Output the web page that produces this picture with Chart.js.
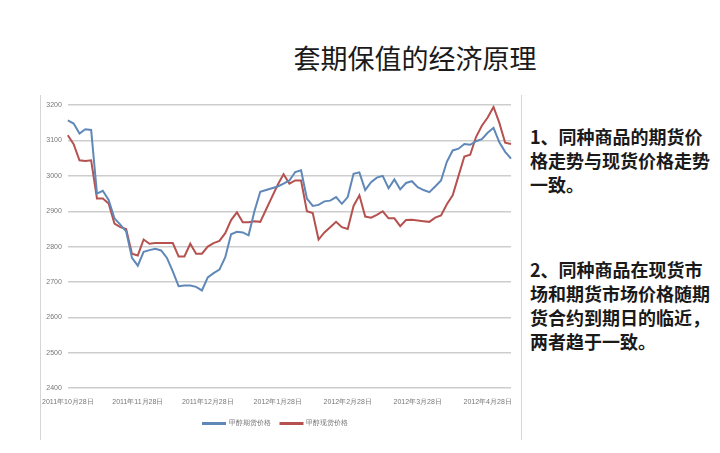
<!DOCTYPE html>
<html>
<head>
<meta charset="utf-8">
<script src="https://cdn.jsdelivr.net/npm/chart.js@4"></script>
<style>
  body { margin: 0; width: 720px; height: 453px; background: #fff; position: relative; overflow: hidden;
         font-family: "Noto Sans CJK SC", sans-serif; }
  #title { position: absolute; left: 280px; top: 38px; width: 270px; text-align: center;
           font-size: 27px; color: #1a1a1a; }
  #frame { position: absolute; left: 40px; top: 95px; width: 480px; height: 345px;
           border-left: 1px solid #d6d6d6; border-right: 1px solid #d6d6d6; }
  #wrap { position: absolute; left: 40px; top: 95px; width: 480px; height: 345px; }
  .note { position: absolute; left: 530px; width: 188px; font-size: 18px; line-height: 24px;
          font-weight: bold; color: #1a1a1a; }
</style>
</head>
<body>
<div id="title">套期保值的经济原理</div>
<div id="frame"></div>
<div id="wrap"><canvas id="canvas" width="480" height="345"></canvas></div>
<div class="note" style="top:124px">1、同种商品的期货价格走势与现货价格走势一致。</div>
<div class="note" style="top:257px">2、同种商品在现货市场和期货市场价格随期货合约到期日的临近，两者趋于一致。</div>
<script>
// tick labels, one every 12 points
const monthLabels = ['2011年10月28日', '2011年11月28日', '2011年12月28日', '2012年1月28日',
                     '2012年2月28日', '2012年3月28日', '2012年4月28日'];
const pointsPerMonth = 12;

// 甲醇期货价格
const futures = [3157, 3148, 3120, 3132, 3130, 2950, 2958, 2932, 2880, 2862,
                 2843, 2768, 2746, 2785, 2790, 2794, 2789, 2768, 2730, 2688,
                 2690, 2690, 2686, 2676, 2713, 2725, 2735, 2770, 2835, 2842,
                 2840, 2832, 2900, 2955, 2960, 2965, 2970, 2978, 2987, 3011,
                 3016, 2936, 2915, 2918, 2928, 2930, 2940, 2921, 2940, 3006,
                 3010, 2960, 2982, 2995, 3000, 2965, 2990, 2962, 2980, 2985,
                 2968, 2960, 2954, 2970, 2987, 3040, 3072, 3077, 3090, 3088,
                 3098, 3104, 3122, 3136, 3095, 3068, 3049];
// 甲醇现货价格
const spot = [3115, 3090, 3044, 3042, 3044, 2936, 2936, 2922, 2865, 2855,
              2850, 2780, 2775, 2820, 2808, 2810, 2810, 2810, 2810, 2772,
              2772, 2808, 2780, 2780, 2800, 2810, 2816, 2838, 2875, 2897,
              2869, 2869, 2872, 2870, 2905, 2940, 2975, 3005, 2978, 2987,
              2987, 2900, 2895, 2820, 2840, 2855, 2870, 2855, 2850, 2915,
              2945, 2885, 2882, 2890, 2900, 2880, 2880, 2858, 2875, 2876,
              2874, 2872, 2870, 2882, 2888, 2920, 2945, 3000, 3055, 3060,
              3110, 3142, 3165, 3195, 3150, 3094, 3090];

const labels = futures.map((v, i) =>
  i % pointsPerMonth === 0 ? (monthLabels[i / pointsPerMonth] || '') : '');

const ctx = document.getElementById('canvas').getContext('2d');
const myChart = new Chart(ctx, {
  type: 'line',
  data: {
    labels: labels,
    datasets: [{
      label: '甲醇期货价格',
      data: futures,
      borderColor: '#5f88b8',
      backgroundColor: '#5f88b8',
      borderWidth: 2,
      pointRadius: 0,
      tension: 0
    }, {
      label: '甲醇现货价格',
      data: spot,
      borderColor: '#b5514f',
      backgroundColor: '#b5514f',
      borderWidth: 2,
      pointRadius: 0,
      tension: 0
    }]
  },
  options: {
    responsive: false,
    animation: false,
    layout: { padding: { left: 0, right: 9, top: 10, bottom: 3 } },
    plugins: {
      tooltip: { enabled: false },
      legend: {
        position: 'bottom',
        labels: {
          boxWidth: 22, boxHeight: 1, font: { size: 7 }, color: '#777', padding: 10
        }
      }
    },
    scales: {
      x: {
        grid: { display: false },
        border: { display: false },
        ticks: {
          autoSkip: false, maxRotation: 0, minRotation: 0,
          font: { size: 7 }, color: '#777', padding: 2
        },
        afterFit: s => { s.height = 22; }
      },
      y: {
        min: 2400, max: 3200,
        grid: { color: '#cdcdcd', lineWidth: 1.5, drawTicks: false },
        border: { display: false },
        ticks: { stepSize: 100, font: { size: 7 }, color: '#777', padding: 6,
                 callback: v => String(v) },
        afterFit: s => { s.width = 27; }
      }
    }
  }
});
</script>
</body>
</html>
